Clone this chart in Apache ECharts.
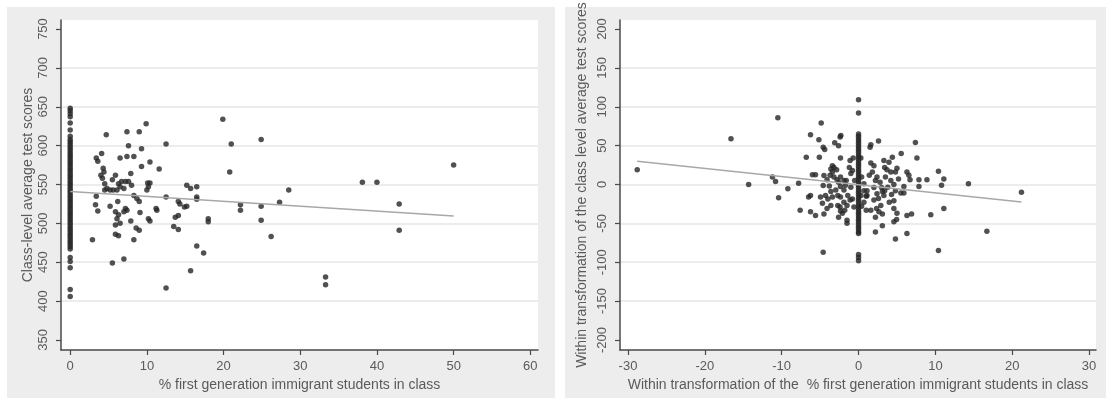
<!DOCTYPE html>
<html>
<head>
<meta charset="utf-8">
<script src="https://cdn.jsdelivr.net/npm/echarts@6/dist/echarts.min.js"></script>
<style>
html,body{margin:0;padding:0;background:#fff;}
#c{width:1106px;height:400px;}
</style>
</head>
<body>
<div id="c"></div>
<script>
// ---------- data ----------
const leftXTicks = [0, 10, 20, 30, 40, 50, 60];
const leftYTicks = [350, 400, 450, 500, 550, 600, 650, 700, 750];
const rightXTicks = [-30, -20, -10, 0, 10, 20, 30];
const rightYTicks = [-200, -150, -100, -50, 0, 50, 100, 150, 200];

// left: classes with no first-generation immigrants (x = 0)
const leftZeroColumn = [648, 645, 641, 637, 629, 620, 612, 608, 605, 602, 599, 596, 593, 590, 587, 584, 581, 578,
  575, 572, 569, 566, 563, 560, 557, 554, 551, 548, 545, 542, 539, 536, 533, 530, 527, 524, 521, 518, 515, 512,
  509, 506, 503, 500, 497, 494, 491, 488, 485, 482, 479, 476, 473, 470, 467, 456, 451, 443, 415, 406];
// left: other classes [% immigrants, score]
const leftPoints = [[2.9,479],[3.4,584],[3.6,580],[4.1,590],[4.7,614],[4.3,571],[4.4,566],[4.0,562],[4.2,558],[4.5,551],
  [4.8,545],[4.5,543],[3.4,535],[3.3,524],[3.6,516],[5.2,522],[5.5,556],[5.9,562],[5.2,543],[5.6,543],[6.3,551],[6.7,554],
  [7.2,554],[7.6,554],[8.0,549],[6.1,543],[6.5,547],[7.0,545],[6.5,584],[7.4,586],[8.3,586],[7.4,618],[9.0,618],[7.6,600],
  [9.9,628],[9.3,596],[10.4,579],[9.3,573],[7.9,564],[11.6,570],[12.5,602],[10.1,552],[10.4,552],[10.2,547],[10.0,543],
  [8.3,536],[8.7,532],[9.0,528],[6.2,528],[5.9,515],[6.3,511],[6.1,506],[7.2,519],[7.4,517],[7.0,515],[7.9,503],[9.1,514],
  [10.2,506],[10.4,503],[11.2,519],[11.3,517],[5.9,498],[6.5,500],[5.9,486],[6.3,484],[8.3,479],[8.6,494],[9.0,491],
  [5.5,449],[7.0,454],[12.5,417],[12.5,534],[14.1,528],[14.3,525],[14.9,521],[15.2,522],[13.7,508],[14.1,510],[13.5,496],
  [14.1,492],[15.2,549],[15.7,545],[16.5,547],[16.5,534],[16.5,531],[15.7,439],[16.5,471],[17.4,462],[18.0,506],[18.0,502],
  [19.9,634],[21.0,602],[20.8,566],[22.2,524],[22.2,517],[24.9,608],[24.9,522],[24.9,504],[26.2,483],[27.3,527],[28.5,543],
  [33.3,431],[33.3,421],[38.1,553],[40.0,553],[42.9,525],[42.9,491],[50.0,575]];
const leftFit = [[0, 541], [50, 509.5]];

// right: within-transformed values, x = 0 column
const rightZeroColumn = [109, 92, 65, 62, 59, 56, 53, 50, 47, 44, 41, 38, 35, 32, 29, 26, 23, 20, 17, 14, 11, 8, 5, 2,
  -1, -4, -7, -10, -13, -16, -19, -22, -25, -28, -31, -34, -37, -40, -43, -46, -49, -52, -55, -58, -61, -63, -90, -94, -98];
const rightPoints = [[-28.8,19],[-16.6,59],[-14.3,0],[14.3,1],[16.7,-60],[21.2,-10],
  [-10.5,86],[-4.86,79],[-6.25,64],[-5.16,57.5],[-4.6,48],[-4.4,45],[-3.1,53.6],[-2.4,61],[-2.3,63],[-2.6,50],[-6.8,35],
  [-5.1,35],[-2.35,34],[-1.1,31],[-0.7,34],[0.3,34],[1.5,48],[1.6,51],[2.6,56],[1.6,27.5],[2.0,24],[3.96,28.6],[3.3,31],
  [4.4,35],[3.4,22],[3.7,19],[4.2,16],[5.0,21],[5.55,40],[4.8,16],[7.4,54],[7.6,34],[6.3,16],[6.55,12],[6.7,6],[7.86,6],
  [7.86,-2.6],[8.9,6],[10.4,17],[11.1,7],[10.8,-1],[11.1,-31],[9.4,-39],[10.4,-85],[6.3,-63],[4.8,-70],[2.2,-61],[3.1,-53],
  [4.6,-48],[4.95,-45],[5.0,-37],[6.3,-40],[6.9,-38],[2.2,-42],[2.65,-35],[2.35,-31],[2.9,-27],[2.0,-20],[2.6,-18],[2.4,-12],
  [3.0,-4],[3.1,-9],[3.3,-14],[4.3,-13],[4.6,-21],[5.5,-11],[5.9,-11],[2.2,5],[2.0,-4],[1.0,-15],[1.1,-8],[4.6,0],[5.2,7],
  [1.0,-33],[0.4,-28],[-1.1,-20],[-1.5,-27],[-1.8,-33],[-2.1,-37],[-2.4,-29],[-1.5,-50],[-1.5,-46],[-2.6,-42],[-2.35,-34],
  [-4.5,-38],[-5.6,-40],[-6.25,-35],[-7.6,-33],[-4.6,-87],[-4.0,-18.5],[-4.3,-14],[-4.95,-16],[-4.7,-24],[-6.25,-14],
  [-6.5,-16],[-10.4,-17],[-10.8,4],[-11.2,9.5],[-9.2,-5.6],[-7.8,1.7],[-6.0,12.5],[-5.6,12.5],[-4.5,11.6],[-4.1,6],
  [-4.6,-1.3],[-3.6,20],[-3.2,22],[-3.4,16],[-3.2,9.5],[-2.8,6],[-2.35,9.5],[-1.9,5],[-3.8,-2],[-3.6,-9],[-2.96,-7],
  [-2.7,-14],[-3.4,-16],[-2.35,-2.6],[-1.9,-7],[-2.35,-16],[-1.2,22],[-0.8,18],[-1.0,14],[-0.5,5],[-1.0,-3.4],[0.4,9.5],
  [0.7,1],[1.1,-14],[0.7,-23],[3.5,9.5],[3.8,-3.4],[5.9,-2.6],
  [-3.4,24],[-2.85,19],[-3.7,12],[-2.6,3],[-1.6,5],[-1.7,-1],[-1.4,-14],[-1.9,-23],[-2.7,-27],[-0.6,-29],[-0.8,-18.5],
  [0.7,-8],[0.3,-14],[1.4,12],[1.8,16],[2.4,9.5],[2.8,3],[3.4,-8],[4.2,5],[4.8,-8],[4.0,-23],[4.6,-31],[3.1,-38],
  [1.6,-33],[-3.6,-27],[-4.1,-31]];
const rightFit = [[-28.8, 30], [21.2, -22.6]];

const leftXTitle = '% first generation immigrant students in class';
const leftYTitle = 'Class-level average test scores';
const rightXTitle = 'Within transformation of the  % first generation immigrant students in class';
const rightYTitle = 'Within transformation of the class level average test scores';

// ---------- chart ----------
const FONT = '"Liberation Sans", Arial, sans-serif';
const TXT = '#5a5a5a';
const AX = '#4a4a4a';

function xAxis(gridIndex, min, max, ticks, name) {
  return {
    type: 'value', gridIndex, min, max,
    name, nameLocation: 'middle', nameGap: 22,
    nameTextStyle: { color: TXT, fontFamily: FONT, fontSize: 14 },
    axisLine: { show: true, onZero: false, lineStyle: { color: AX, width: 1.5 } },
    axisTick: { show: true, length: 5, customValues: ticks, lineStyle: { color: AX, width: 1.2 } },
    axisLabel: { customValues: ticks, color: TXT, fontFamily: FONT, fontSize: 13, margin: 10 },
    splitLine: { show: false }
  };
}
function yAxis(gridIndex, min, max, ticks, name, gap) {
  return {
    type: 'value', gridIndex, min, max,
    name, nameLocation: 'middle', nameGap: gap,
    nameTextStyle: { color: TXT, fontFamily: FONT, fontSize: 14 },
    axisLine: { show: true, onZero: false, lineStyle: { color: AX, width: 1.5 } },
    axisTick: { show: true, length: 5, customValues: ticks, lineStyle: { color: AX, width: 1.2 } },
    axisLabel: { customValues: ticks, rotate: 90, color: TXT, fontFamily: FONT, fontSize: 13, margin: 11 },
    splitLine: { show: true, showMinLine: false, showMaxLine: false, lineStyle: { color: '#e6e6e6', width: 1.5 } }
  };
}

const dot = { color: '#262626' };
const chart = echarts.init(document.getElementById('c'), null, { renderer: 'canvas' });
chart.setOption({
  animation: false,
  backgroundColor: '#ffffff',
  graphic: [
    { type: 'rect', z: -10, silent: true, shape: { x: 7, y: 7, width: 548, height: 391 }, style: { fill: '#ededed' } },
    { type: 'rect', z: -10, silent: true, shape: { x: 565, y: 7, width: 541, height: 391 }, style: { fill: '#ededed' } }
  ],
  grid: [
    { left: 61, top: 20, width: 477, height: 330, show: true, backgroundColor: '#ffffff', borderWidth: 0 },
    { left: 620, top: 20, width: 476, height: 330, show: true, backgroundColor: '#ffffff', borderWidth: 0 }
  ],
  xAxis: [
    xAxis(0, -1.2, 61, leftXTicks, leftXTitle),
    xAxis(1, -31.04, 30.9, rightXTicks, rightXTitle)
  ],
  yAxis: [
    yAxis(0, 337.1, 761.6, leftYTicks, leftYTitle, 26),
    yAxis(1, -212.9, 211.6, rightYTicks, rightYTitle, 31)
  ],
  series: [
    { type: 'scatter', xAxisIndex: 0, yAxisIndex: 0, symbolSize: 5.5, itemStyle: dot, silent: true,
      data: leftZeroColumn.map(v => [0, v]).concat(leftPoints) },
    { type: 'line', xAxisIndex: 0, yAxisIndex: 0, data: leftFit, symbol: 'none', silent: true,
      lineStyle: { color: '#a8a8a8', width: 1.5 } },
    { type: 'scatter', xAxisIndex: 1, yAxisIndex: 1, symbolSize: 5.5, itemStyle: dot, silent: true,
      data: rightZeroColumn.map(v => [0, v]).concat(rightPoints) },
    { type: 'line', xAxisIndex: 1, yAxisIndex: 1, data: rightFit, symbol: 'none', silent: true,
      lineStyle: { color: '#a8a8a8', width: 1.5 } }
  ]
});
</script>
</body>
</html>
